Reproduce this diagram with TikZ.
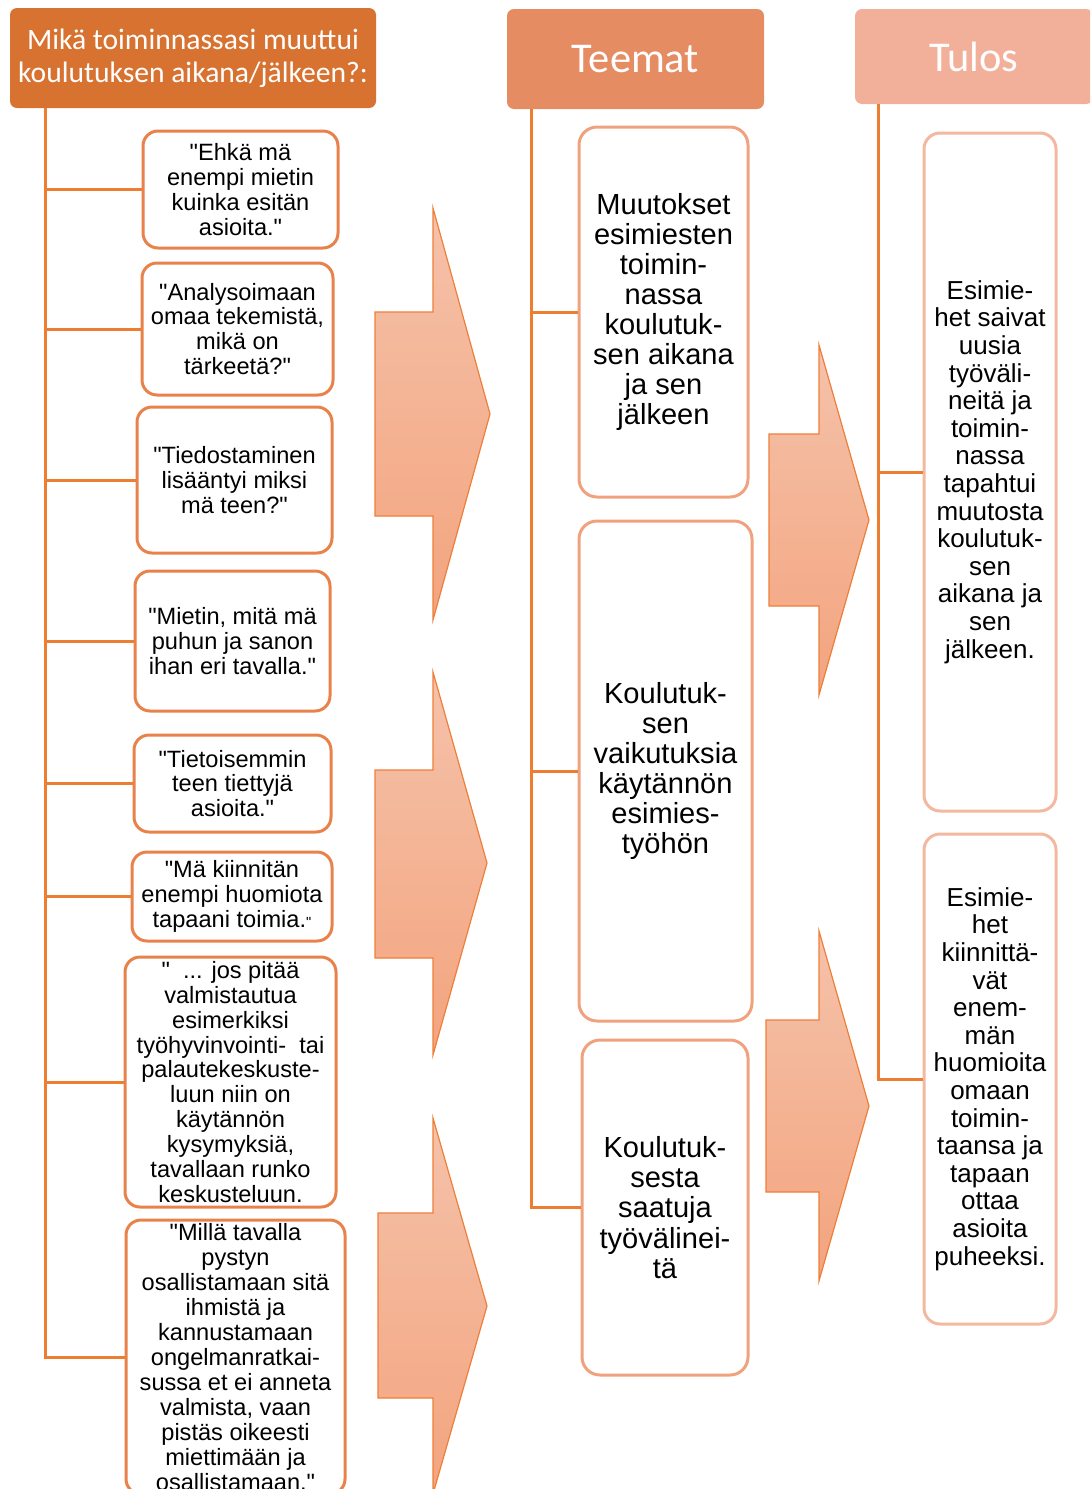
\documentclass[tikz,border=0pt]{standalone}
\usepackage{fontspec}
\setmainfont{Liberation Sans}[Ligatures=TeXOff]
\newfontfamily\headfont{Carlito}
\usepackage{tikz}
\usepackage{xcolor}

\definecolor{headA}{HTML}{D87230}
\definecolor{headB}{HTML}{E68C62}
\definecolor{headC}{HTML}{F2B09A}
\definecolor{spineline}{HTML}{ED7D31}
\definecolor{qline}{HTML}{E8824A}
\definecolor{tline}{HTML}{F0A27F}
\definecolor{rline}{HTML}{F4B8A0}
\definecolor{arrtop}{HTML}{F5C2AA}
\definecolor{arrbot}{HTML}{F3A47E}
\definecolor{arrline}{HTML}{EE7F3A}

\newdimen\pxu
\pxu=0.75pt

\tikzset{
  head/.style={rounded corners=7\pxu, text=white, inner sep=0pt, align=center},
  quote/.style={draw=qline, line width=3\pxu, rounded corners=15\pxu, fill=white, align=center,
    inner sep=0pt, font=\fontsize{17.7pt}{18.7pt}\selectfont},
  theme/.style={draw=tline, line width=3\pxu, rounded corners=18\pxu, fill=white, align=center,
    inner sep=0pt, font=\fontsize{21.8pt}{22.6pt}\selectfont},
  result/.style={draw=rline, line width=3\pxu, rounded corners=16\pxu, fill=white, align=center,
    inner sep=0pt, font=\fontsize{19.5pt}{20.7pt}\selectfont},
  spine/.style={draw=spineline, line width=3\pxu},
  bigarrow/.style={top color=arrtop, bottom color=arrbot, draw=arrline, line width=1.2\pxu}
}

\begin{document}
\begin{tikzpicture}[x=0.75pt, y=-0.75pt]
    \clip (0,0) rectangle (1090,1489);

    \node[head, fill=headA, minimum width=366\pxu, minimum height=100\pxu,
          font=\headfont\fontsize{22.2pt}{24.75pt}\selectfont] (h1) at (193,58)
          {Mikä toiminnassasi muuttui\\koulutuksen aikana/jälkeen?:};
    \node[head, fill=headB, minimum width=257\pxu, minimum height=100\pxu,
          font=\headfont\fontsize{31.8pt}{33pt}\selectfont] (h2) at (635.5,59) {Teemat};
    \node[head, fill=headC, minimum width=238\pxu, minimum height=95\pxu,
          font=\headfont\fontsize{31.8pt}{33pt}\selectfont] (h3) at (974,56.5) {Tulos};

    \node[quote, minimum width=195\pxu, minimum height=117\pxu] (q1) at (240.5,189.5)
        {"Ehkä mä\\enempi mietin\\kuinka esitän\\asioita."};
    \node[quote, minimum width=191\pxu, minimum height=132\pxu] (q2) at (237.5,329)
        {"Analysoimaan\\omaa tekemistä,\\mikä on\\tärkeetä?"};
    \node[quote, minimum width=195\pxu, minimum height=146\pxu] (q3) at (234.5,480)
        {"Tiedostaminen\\lisääntyi miksi\\mä teen?"};
    \node[quote, minimum width=195\pxu, minimum height=140\pxu] (q4) at (232.5,641)
        {"Mietin, mitä mä\\puhun ja sanon\\ihan eri tavalla."};
    \node[quote, minimum width=197\pxu, minimum height=97\pxu] (q5) at (232.5,783.5)
        {"Tietoisemmin\\teen tiettyjä\\asioita."};
    \node[quote, minimum width=200\pxu, minimum height=89\pxu] (q6) at (232,896.5)
        {"Mä kiinnitän\\enempi huomiota\\tapaani toimia.{\fontsize{11pt}{12pt}\selectfont"}};
    \node[quote, minimum width=211\pxu, minimum height=250\pxu] (q7) at (230.5,1082)
        {"\ \ ... jos pitää\\valmistautua\\esimerkiksi\\työhyvinvointi-\ \ tai\\palautekeskuste-\\luun niin on\\käytännön\\kysymyksiä,\\tavallaan runko\\keskusteluun.};
    \node[quote, minimum width=219\pxu, minimum height=274\pxu] (q8) at (235.5,1357)
        {"Millä tavalla\\pystyn\\osallistamaan sitä\\ihmistä ja\\kannustamaan\\ongelmanratkai-\\sussa et ei anneta\\valmista, vaan\\pistäs oikeesti\\miettimään ja\\osallistamaan."};

    \node[theme, minimum width=169\pxu, minimum height=370\pxu] (t1) at (663.5,312)
        {Muutokset\\esimiesten\\toimin-\\nassa\\koulutuk-\\sen aikana\\ja sen\\jälkeen};
    \node[theme, minimum width=173\pxu, minimum height=500\pxu] (t2) at (665.5,771)
        {Koulutuk-\\sen\\vaikutuksia\\käytännön\\esimies-\\työhön};
    \node[theme, minimum width=166\pxu, minimum height=335\pxu] (t3) at (665,1207.5)
        {Koulutuk-\\sesta\\saatuja\\työvälinei-\\tä};

    \node[result, minimum width=132\pxu, minimum height=678\pxu] (r1) at (990,472)
        {Esimie-\\het saivat\\uusia\\työväli-\\neitä ja\\toimin-\\nassa\\tapahtui\\muutosta\\koulutuk-\\sen\\aikana ja\\sen\\jälkeen.};
    \node[result, minimum width=132\pxu, minimum height=490\pxu] (r2) at (990,1079)
        {Esimie-\\het\\kiinnittä-\\vät\\enem-\\män\\huomioita\\omaan\\toimin-\\taansa ja\\tapaan\\ottaa\\asioita\\puheeksi.};

    \coordinate (s1) at (45,108);
    \coordinate (s2) at (531,109);
    \coordinate (s3) at (878,104);

    \draw[spine] (s1) |- (q8.west);
    \foreach \q in {q1,q2,q3,q4,q5,q6,q7}
        \draw[spine] (s1 |- \q.west) -- (\q.west);
    \draw[spine] (s2) |- (t3.west);
    \foreach \q in {t1,t2}
        \draw[spine] (s2 |- \q.west) -- (\q.west);
    \draw[spine] (s3) |- (r2.west);
    \draw[spine] (s3 |- r1.west) -- (r1.west);

    \draw[bigarrow] (375,312) -- (433,312) -- (433,208) -- (490,414) -- (433,620) -- (433,516) -- (375,516) -- cycle;
    \draw[bigarrow] (375,770) -- (433,770) -- (433,672) -- (487,863) -- (433,1055) -- (433,958) -- (375,958) -- cycle;
    \draw[bigarrow] (378,1213) -- (433,1213) -- (433,1118) -- (487,1306) -- (433,1494) -- (433,1398) -- (378,1398) -- cycle;
    \draw[bigarrow] (769,434) -- (819,434) -- (819,345) -- (869,520) -- (819,695) -- (819,606) -- (769,606) -- cycle;
    \draw[bigarrow] (766,1020) -- (819,1020) -- (819,931) -- (869,1106) -- (819,1281) -- (819,1192) -- (766,1192) -- cycle;
\end{tikzpicture}
\end{document}
